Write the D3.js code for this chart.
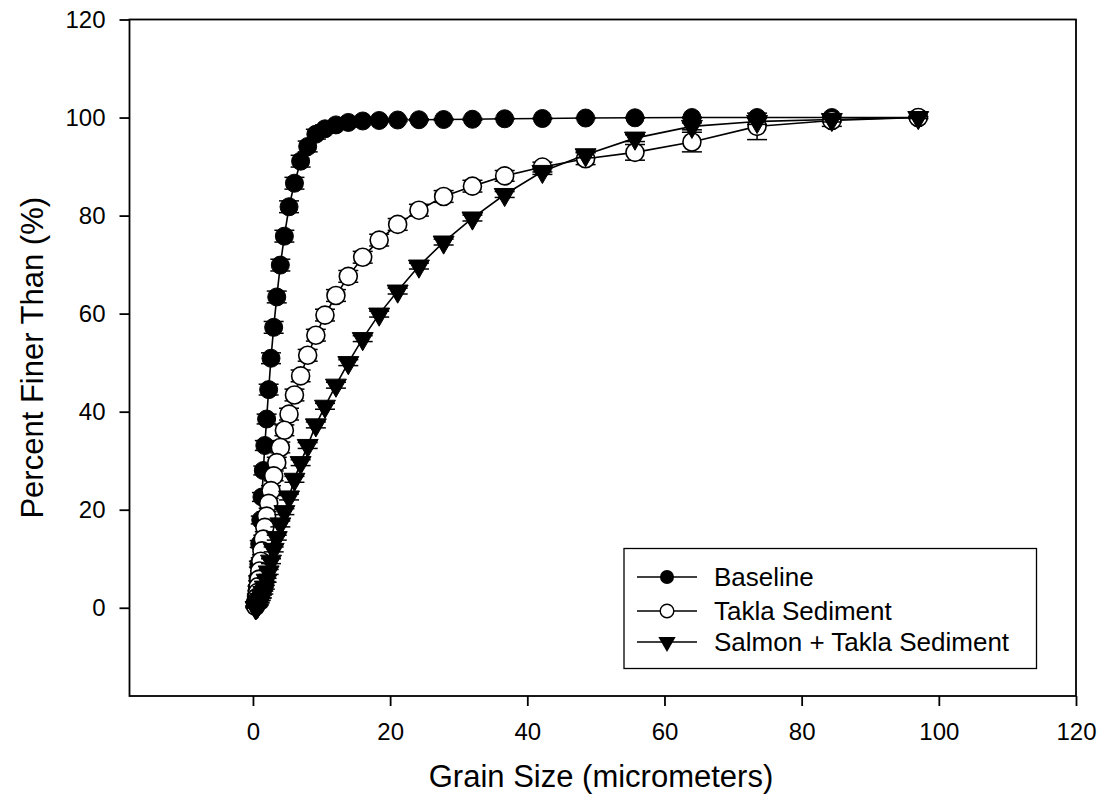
<!DOCTYPE html>
<html>
<head>
<meta charset="utf-8">
<script src="https://cdn.jsdelivr.net/npm/d3@7"></script>
<style>
body { margin: 0; background: #fff; }
text { font-family: "Liberation Sans", Arial, sans-serif; fill: #000; }
</style>
</head>
<body>
<svg id="chart" width="1104" height="804"></svg>
<script>
// ---- Data ----
const grainSize = [97.0, 84.4, 73.5, 64.0, 55.7, 48.5, 42.2, 36.7, 32.0, 27.8, 24.2, 21.1, 18.4, 16.0, 13.9, 12.1, 10.5, 9.17, 7.98, 6.95, 6.05, 5.26, 4.58, 3.99, 3.47, 3.02, 2.63, 2.29, 1.99, 1.73, 1.51, 1.31, 1.14, 0.99, 0.865, 0.753, 0.655, 0.570, 0.497, 0.432, 0.376];

const baseline = [100, 100, 100, 100, 99.95, 99.9, 99.8, 99.75, 99.65, 99.6, 99.55, 99.5, 99.4, 99.3, 99.0, 98.5, 97.7, 96.6, 94.1, 91.1, 86.6, 81.8, 75.8, 69.9, 63.4, 57.2, 50.9, 44.5, 38.5, 33.1, 28.0, 22.6, 17.9, 13.0, 8.9, 6.0, 4.0, 2.5, 1.5, 0.8, 0.3];
const baselineErr = [0, 0, 0.1, 0.1, 0.1, 0.1, 0.1, 0.1, 0.2, 0.2, 0.2, 0.3, 0.3, 0.4, 0.5, 0.6, 0.8, 1.0, 1.1, 1.2, 1.2, 1.2, 1.2, 1.2, 1.2, 1.2, 1.1, 1.1, 1.0, 1.0, 0.9, 0.9, 0.8, 0.7, 0.6, 0.5, 0.4, 0.3, 0.2, 0.2, 0.1];

const takla = [100, 99.4, 98.2, 95.0, 92.9, 91.6, 89.9, 88.1, 86.0, 83.9, 81.1, 78.2, 75.0, 71.5, 67.6, 63.7, 59.7, 55.6, 51.5, 47.3, 43.4, 39.5, 36.2, 32.7, 29.6, 26.9, 23.9, 21.3, 18.7, 16.4, 14.0, 11.6, 9.5, 7.5, 5.8, 4.3, 3.1, 2.1, 1.3, 0.7, 0.3];
const taklaErr = [0.2, 1.2, 2.7, 2.0, 1.6, 1.2, 1.0, 1.1, 1.2, 1.2, 1.2, 1.2, 1.2, 1.2, 1.2, 1.2, 1.2, 1.2, 1.2, 1.2, 1.2, 1.2, 1.1, 1.1, 1.1, 1.0, 1.0, 1.0, 0.9, 0.9, 0.8, 0.8, 0.7, 0.6, 0.5, 0.4, 0.3, 0.3, 0.2, 0.2, 0.1];

const salmon = [100, 99.6, 99.2, 98.2, 95.8, 92.4, 89.0, 84.3, 79.5, 74.6, 69.7, 64.6, 59.9, 54.9, 50.0, 45.4, 41.1, 37.3, 33.1, 29.6, 26.2, 22.6, 19.6, 17.1, 14.3, 11.9, 9.5, 7.3, 5.6, 4.2, 3.1, 2.3, 1.7, 1.2, 0.8, 0.5, 0.3, 0.2, 0.1, 0.05, 0.0];
const salmonErr = [0.2, 0.5, 0.6, 0.7, 0.7, 0.6, 0.6, 0.6, 0.6, 0.6, 0.6, 0.6, 0.6, 0.6, 0.6, 0.6, 0.6, 0.6, 0.6, 0.6, 0.6, 0.6, 0.6, 0.6, 0.5, 0.5, 0.5, 0.5, 0.4, 0.4, 0.3, 0.3, 0.2, 0.2, 0.2, 0.1, 0.1, 0.1, 0.1, 0.05, 0.05];

const seriesNames = ["Baseline", "Takla Sediment", "Salmon + Takla Sediment"];
const xTicks = [0, 20, 40, 60, 80, 100, 120];
const yTicks = [0, 20, 40, 60, 80, 100, 120];
const xTitle = "Grain Size (micrometers)";
const yTitle = "Percent Finer Than (%)";

// ---- Layout ----
const svg = d3.select("#chart");
const L = 129.5, R = 1076, T = 19.5, B = 696;
const x = d3.scaleLinear().domain([-18, 120]).range([L, R]);
const y = d3.scaleLinear().domain([-18, 120]).range([B, T]);

// frame
svg.append("rect").attr("x", L).attr("y", T).attr("width", R - L).attr("height", B - T)
  .attr("fill", "none").attr("stroke", "#000").attr("stroke-width", 1.8);

// axes
const xAxis = svg.append("g").attr("transform", `translate(0,${B})`)
  .call(d3.axisBottom(x).tickValues(xTicks).tickSize(10).tickSizeOuter(0).tickPadding(17));
const yAxis = svg.append("g").attr("transform", `translate(${L},0)`)
  .call(d3.axisLeft(y).tickValues(yTicks).tickSize(10).tickSizeOuter(0).tickPadding(14));
[xAxis, yAxis].forEach(g => {
  g.select(".domain").remove();
  g.selectAll(".tick line").attr("stroke", "#000").attr("stroke-width", 1.8);
  g.selectAll(".tick text").attr("font-size", 24).attr("font-family", "Liberation Sans, Arial, sans-serif").attr("fill", "#000");
});

svg.append("text").attr("x", 601).attr("y", 787).attr("text-anchor", "middle")
  .attr("font-size", 31).text(xTitle);
svg.append("text").attr("transform", `translate(43,${(T + B) / 2}) rotate(-90)`)
  .attr("text-anchor", "middle").attr("font-size", 31).text(yTitle);

// ---- Series ----
const circleR = 9;
const triPath = d3.symbol(d3.symbolTriangle, 190)();
const capW = 10;

function makeData(vals, errs) {
  return grainSize.map((g, i) => ({ x: g, y: vals[i], e: errs[i] }));
}
const series = [
  { name: seriesNames[0], data: makeData(baseline, baselineErr), type: "filledCircle" },
  { name: seriesNames[1], data: makeData(takla, taklaErr), type: "openCircle" },
  { name: seriesNames[2], data: makeData(salmon, salmonErr), type: "triangle" }
];

const line = d3.line().x(d => x(d.x)).y(d => y(d.y));

series.forEach(s => {
  const g = svg.append("g");
  g.append("path").datum(s.data).attr("d", line).attr("fill", "none")
    .attr("stroke", "#000").attr("stroke-width", 1.6);
  // error bars
  const eb = g.append("g").selectAll("g").data(s.data.filter(d => d.e > 0)).join("g");
  eb.append("line").attr("x1", d => x(d.x)).attr("x2", d => x(d.x))
    .attr("y1", d => y(d.y - d.e)).attr("y2", d => y(d.y + d.e))
    .attr("stroke", "#000").attr("stroke-width", 1.5);
  eb.append("line").attr("x1", d => x(d.x) - capW).attr("x2", d => x(d.x) + capW)
    .attr("y1", d => y(d.y - d.e)).attr("y2", d => y(d.y - d.e))
    .attr("stroke", "#000").attr("stroke-width", 1.5);
  eb.append("line").attr("x1", d => x(d.x) - capW).attr("x2", d => x(d.x) + capW)
    .attr("y1", d => y(d.y + d.e)).attr("y2", d => y(d.y + d.e))
    .attr("stroke", "#000").attr("stroke-width", 1.5);
  // markers
  const m = g.append("g").selectAll("g").data(s.data).join("g")
    .attr("transform", d => `translate(${x(d.x)},${y(d.y)})`);
  if (s.type === "filledCircle") {
    m.append("circle").attr("r", circleR).attr("fill", "#000").attr("stroke", "#000").attr("stroke-width", 1);
  } else if (s.type === "openCircle") {
    m.append("circle").attr("r", circleR).attr("fill", "#fff").attr("stroke", "#000").attr("stroke-width", 1.6);
  } else {
    m.append("path").attr("d", triPath).attr("transform", "rotate(180)")
      .attr("fill", "#000").attr("stroke", "#000").attr("stroke-width", 1);
  }
});

// ---- Legend ----
const lg = svg.append("g");
lg.append("rect").attr("x", 624).attr("y", 548.5).attr("width", 412.5).attr("height", 120)
  .attr("fill", "#fff").attr("stroke", "#000").attr("stroke-width", 1.3);
const rowsY = [577, 611, 642];
series.forEach((s, i) => {
  const yy = rowsY[i];
  lg.append("line").attr("x1", 637).attr("x2", 697).attr("y1", yy).attr("y2", yy)
    .attr("stroke", "#000").attr("stroke-width", 1.4);
  const mk = lg.append("g").attr("transform", `translate(667,${yy})`);
  if (s.type === "filledCircle") {
    mk.append("circle").attr("r", 7).attr("fill", "#000");
  } else if (s.type === "openCircle") {
    mk.append("circle").attr("r", 6.8).attr("fill", "#fff").attr("stroke", "#000").attr("stroke-width", 1.4);
  } else {
    mk.append("path").attr("d", d3.symbol(d3.symbolTriangle, 130)()).attr("transform", "rotate(180)").attr("fill", "#000");
  }
  lg.append("text").attr("x", 714).attr("y", yy).attr("dy", "0.35em")
    .attr("font-size", 26).text(s.name);
});
</script>
</body>
</html>
